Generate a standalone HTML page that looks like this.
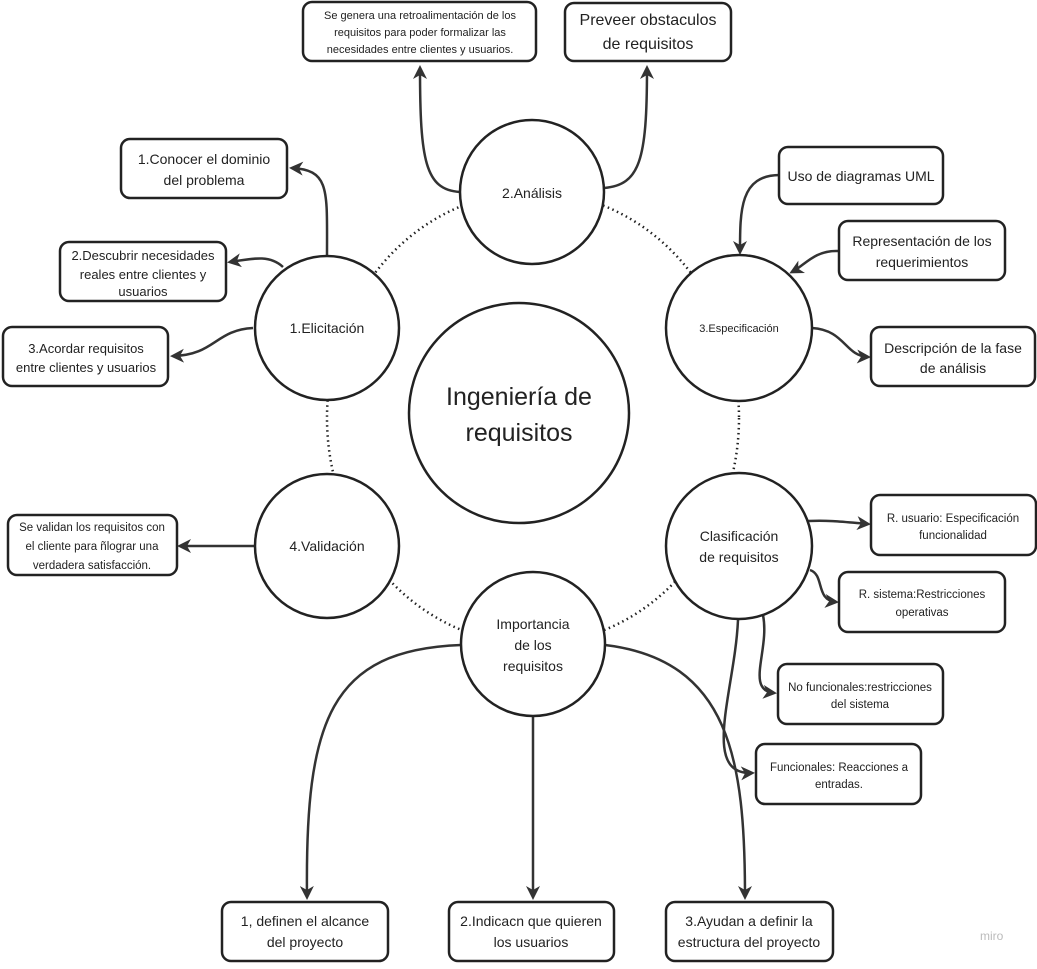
<!DOCTYPE html>
<html><head><meta charset="utf-8"><style>
html,body{margin:0;padding:0;background:#fff;}
svg text{font-family:"Liberation Sans","DejaVu Sans",sans-serif;fill:#222;}
</style></head><body>
<svg width="1037" height="964" viewBox="0 0 1037 964" xmlns="http://www.w3.org/2000/svg">
<defs>
<marker id="a" markerWidth="14" markerHeight="14" refX="11" refY="7" orient="auto" markerUnits="userSpaceOnUse">
<path d="M0,0 L14,7 L0,14 L4,7 z" fill="#333"/>
</marker>
</defs>
<rect x="0" y="0" width="1037" height="964" fill="#fff"/>
<ellipse cx="533" cy="418" rx="206" ry="226" fill="none" stroke="#222" stroke-width="2.5" stroke-dasharray="1.5 3.5"/>
<g fill="none" stroke="#333" stroke-width="2.5" marker-end="url(#a)">
<path d="M460,192 C425,190 420,160 420,68"/>
<path d="M604,188 C640,185 647,160 647,68"/>
<path d="M327,255 C327,190 330,170 292,168"/>
<path d="M283,267 C270,255 255,258 230,262"/>
<path d="M253,328 C215,330 215,355 173,356"/>
<path d="M780,175 C740,175 740,210 740,252"/>
<path d="M838,251 C815,250 805,265 792,272"/>
<path d="M812,328 C845,330 845,356 868,357"/>
<path d="M255,546 L180,546"/>
<path d="M808,521 C830,520 845,522 868,524"/>
<path d="M810,570 C825,575 815,600 836,602"/>
<path d="M763,615 C770,650 745,690 774,693"/>
<path d="M738,620 C735,690 700,775 752,773"/>
<path d="M533,716 L533,897"/>
<path d="M461,645 C330,650 305,720 307,897"/>
<path d="M605,645 C730,660 745,760 745,897"/>
</g>
<g fill="#fff" stroke="#222" stroke-width="2.5">
<circle cx="519" cy="413" r="110"/>
<circle cx="532" cy="192" r="72"/>
<circle cx="327" cy="328" r="72"/>
<circle cx="739" cy="328" r="73"/>
<circle cx="327" cy="546" r="72"/>
<circle cx="739" cy="546" r="73"/>
<circle cx="533" cy="644" r="72"/>
<rect x="303" y="2" width="233" height="59" rx="9"/>
<rect x="565" y="3" width="166" height="58" rx="9"/>
<rect x="121" y="139" width="166" height="59" rx="9"/>
<rect x="60" y="242" width="166" height="59" rx="9"/>
<rect x="3" y="327" width="165" height="59" rx="9"/>
<rect x="779" y="147" width="164" height="57" rx="9"/>
<rect x="839" y="221" width="166" height="59" rx="9"/>
<rect x="871" y="327" width="164" height="59" rx="9"/>
<rect x="8" y="515" width="169" height="60" rx="9"/>
<rect x="871" y="495" width="165" height="60" rx="9"/>
<rect x="839" y="572" width="166" height="60" rx="9"/>
<rect x="778" y="664" width="165" height="60" rx="9"/>
<rect x="756" y="744" width="165" height="60" rx="9"/>
<rect x="222" y="902" width="166" height="59" rx="9"/>
<rect x="449" y="902" width="165" height="59" rx="9"/>
<rect x="666" y="902" width="167" height="59" rx="9"/>
</g>
<g text-anchor="middle">
<text x="519" y="405" font-size="25">Ingeniería de</text>
<text x="519" y="441" font-size="25">requisitos</text>
<text x="532" y="198" font-size="14">2.Análisis</text>
<text x="327" y="333" font-size="14">1.Elicitación</text>
<text x="739" y="332" font-size="11">3.Especificación</text>
<text x="327" y="551" font-size="14">4.Validación</text>
<text x="739" y="541" font-size="14">Clasificación</text>
<text x="739" y="562" font-size="14">de requisitos</text>
<text x="533" y="629" font-size="14">Importancia</text>
<text x="533" y="650" font-size="14">de los</text>
<text x="533" y="671" font-size="14">requisitos</text>
<g font-size="11">
<text x="420" y="19">Se genera una retroalimentación de los</text>
<text x="420" y="36">requisitos para poder formalizar las</text>
<text x="420" y="53">necesidades entre clientes y usuarios.</text>
</g>
<text x="648" y="25" font-size="16">Preveer obstaculos</text>
<text x="648" y="49" font-size="16">de requisitos</text>
<text x="204" y="164" font-size="14">1.Conocer el dominio</text>
<text x="204" y="185" font-size="14">del problema</text>
<g font-size="13">
<text x="143" y="260">2.Descubrir necesidades</text>
<text x="143" y="279">reales entre clientes y</text>
<text x="143" y="296">usuarios</text>
<text x="86" y="353">3.Acordar requisitos</text>
<text x="86" y="372">entre clientes y usuarios</text>
</g>
<text x="861" y="181" font-size="14">Uso de diagramas UML</text>
<text x="922" y="246" font-size="14">Representación de los</text>
<text x="922" y="267" font-size="14">requerimientos</text>
<text x="953" y="353" font-size="14">Descripción de la fase</text>
<text x="953" y="373" font-size="14">de análisis</text>
<g font-size="11.5">
<text x="92" y="531">Se validan los requisitos con</text>
<text x="92" y="550">el cliente para ñlograr una</text>
<text x="92" y="569">verdadera satisfacción.</text>
<text x="953" y="522">R. usuario: Especificación</text>
<text x="953" y="539">funcionalidad</text>
<text x="922" y="598">R. sistema:Restricciones</text>
<text x="922" y="616">operativas</text>
<text x="860" y="691">No funcionales:restricciones</text>
<text x="860" y="708">del sistema</text>
<text x="839" y="771">Funcionales: Reacciones a</text>
<text x="839" y="788">entradas.</text>
</g>
<g font-size="14">
<text x="305" y="926">1, definen el alcance</text>
<text x="305" y="947">del proyecto</text>
<text x="531" y="926">2.Indicacn que quieren</text>
<text x="531" y="947">los usuarios</text>
<text x="749" y="926">3.Ayudan a definir la</text>
<text x="749" y="947">estructura del proyecto</text>
</g>
</g>
<text x="980" y="940" font-size="12" style="fill:#bbb">miro</text>
</svg>
</body></html>
